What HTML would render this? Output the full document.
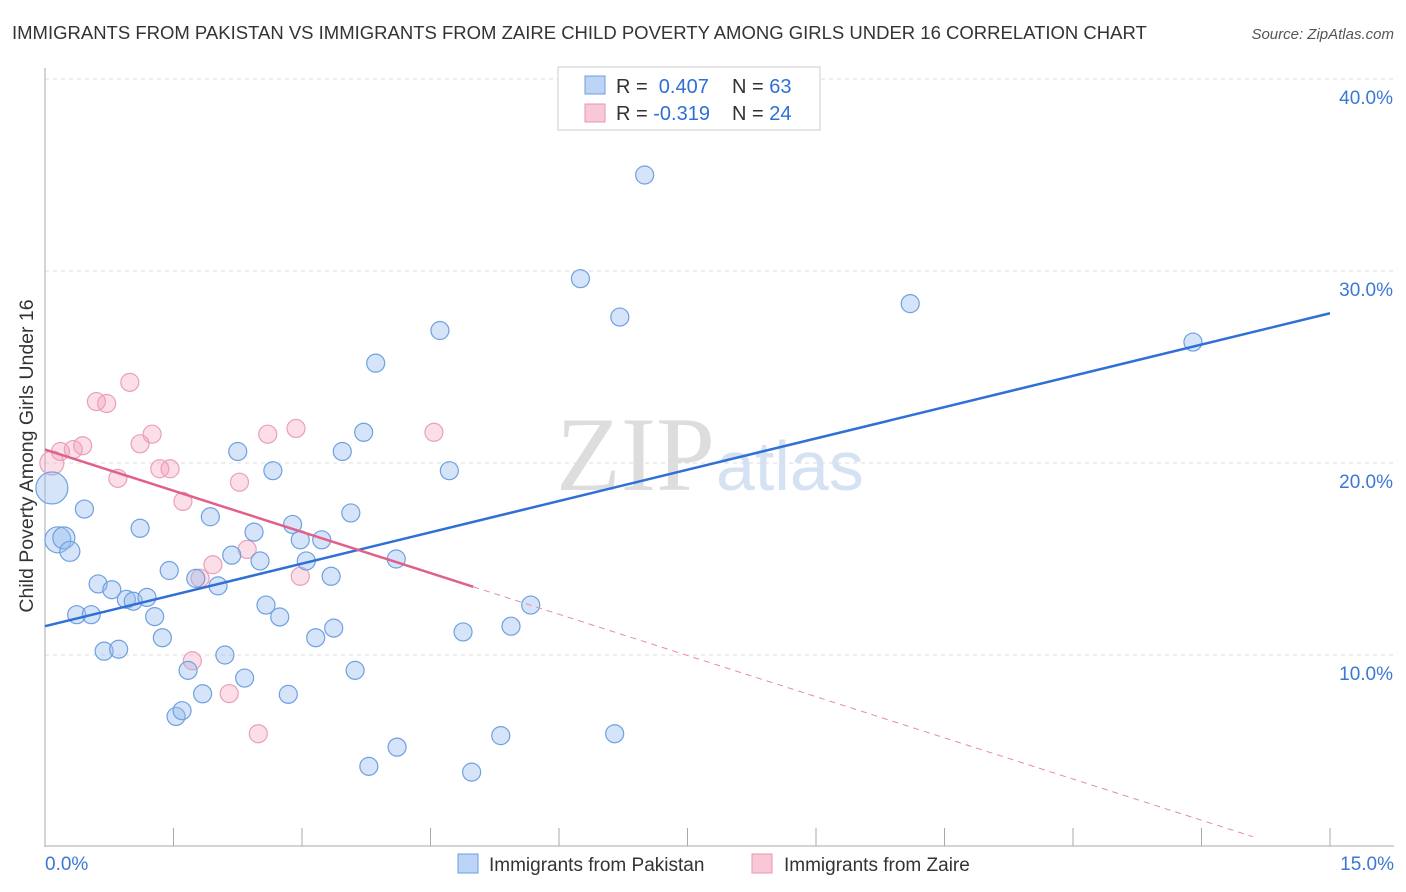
<!DOCTYPE html>
<html><head><meta charset="utf-8"><style>
body{margin:0;background:#fff;font-family:"Liberation Sans",sans-serif;}
#wrap{position:relative;width:1406px;height:892px;overflow:hidden}
</style></head><body><div id="wrap">
<svg id="svg" width="1406" height="892">
<text x="12" y="39" font-size="18.5" fill="#333">IMMIGRANTS FROM PAKISTAN VS IMMIGRANTS FROM ZAIRE CHILD POVERTY AMONG GIRLS UNDER 16 CORRELATION CHART</text>
<text x="1394" y="39" font-size="15" fill="#555" font-style="italic" text-anchor="end">Source: ZipAtlas.com</text>
<text x="715" y="490" font-size="106" fill="#ddd" text-anchor="end" font-family="Liberation Serif">ZIP</text>
<text x="716" y="490" font-size="70" fill="#d5e2f3">atlas</text>
<text transform="translate(33,456) rotate(-90)" font-size="19.5" fill="#333" text-anchor="middle">Child Poverty Among Girls Under 16</text>
<g id="grid"></g><g id="pts"></g><g id="lines"></g>
<g>
<rect x="558" y="67" width="262" height="63" fill="#fff" stroke="#ccc"/>
<rect x="585" y="76" width="20" height="18" fill="#bcd4f5" stroke="#6c9de0"/>
<rect x="585" y="104" width="20" height="18" fill="#f9c8d6" stroke="#ea94b0"/>
<text x="616" y="93" font-size="20" fill="#333">R = <tspan fill="#2f6fd6">&#160;0.407</tspan><tspan x="732">N = </tspan><tspan fill="#2f6fd6">63</tspan></text>
<text x="616" y="120" font-size="20" fill="#333">R = <tspan fill="#2f6fd6">-0.319</tspan><tspan x="732">N = </tspan><tspan fill="#2f6fd6">24</tspan></text>
</g>
<g>
<rect x="458" y="854" width="20" height="19" fill="#bcd4f5" stroke="#6c9de0"/>
<text x="489" y="871" font-size="19" fill="#333">Immigrants from Pakistan</text>
<rect x="752" y="854" width="20" height="19" fill="#f9c8d6" stroke="#ea94b0"/>
<text x="784" y="871" font-size="19" fill="#333">Immigrants from Zaire</text>
</g>
</svg></div>
<script>
const yTicks=[10,20,30,40];
const xTickLabels=["0.0%","15.0%"];
const pakX=[0.08,0.15,0.22,0.29,0.46,0.37,0.54,0.62,0.69,0.78,0.86,0.95,1.03,1.11,1.19,1.28,1.37,1.45,1.53,1.6,1.67,1.76,1.84,1.93,2.02,2.1,2.18,2.25,2.33,2.44,2.51,2.58,2.66,2.74,2.84,2.89,2.98,3.05,3.16,3.23,3.34,3.37,3.47,3.57,3.62,3.72,3.78,3.86,4.1,4.11,4.61,4.72,4.88,4.98,5.32,5.44,5.67,6.25,6.65,6.71,7.0,10.1,13.4];
const pakY=[18.7,16.0,16.1,15.4,17.6,12.1,12.1,13.7,10.2,13.4,10.3,12.9,12.8,16.6,13.0,12.0,10.9,14.4,6.8,7.1,9.2,13.99,7.98,17.2,13.6,10.0,15.2,20.6,8.8,16.4,14.9,12.6,19.6,11.98,7.95,16.8,16.0,14.9,10.9,16.0,14.1,11.4,20.6,17.4,9.2,21.6,4.2,25.2,15.0,5.2,26.9,19.6,11.2,3.9,5.8,11.5,12.6,29.6,5.9,27.6,35.0,28.3,26.3];
const pakR=[16,13,11,10,9,9,9,9,9,9,9,9,9,9,9,9,9,9,9,9,9,9,9,9,9,9,9,9,9,9,9,9,9,9,9,9,9,9,9,9,9,9,9,9,9,9,9,9,9,9,9,9,9,9,9,9,9,9,9,9,9,9,9];
const zaiX=[0.08,0.18,0.33,0.44,0.6,0.72,0.85,0.99,1.11,1.25,1.34,1.46,1.61,1.81,1.96,2.15,2.27,2.36,2.49,2.6,2.93,2.98,4.54,1.72];
const zaiY=[20.0,20.6,20.7,20.9,23.2,23.1,19.2,24.2,21.0,21.5,19.7,19.7,18.0,14.0,14.7,7.99,19.0,15.5,5.9,21.5,21.8,14.1,21.6,9.7];
const zaiR=[12,9,9,9,9,9,9,9,9,9,9,9,9,9,9,9,9,9,9,9,9,9,9,9];
const pakFit=[11.5,27.8], zaiFit=[20.7,-0.75];
const NS="http://www.w3.org/2000/svg";
const X=v=>45+v/15*1285, Y=v=>847-v*19.2;
function mk(t,a,p){const e=document.createElementNS(NS,t);for(const k in a)e.setAttribute(k,a[k]);p.appendChild(e);return e;}
const grid=document.getElementById('grid'),svg=document.getElementById('svg');
yTicks.forEach(t=>{
 const l=mk('line',{x1:45,x2:1394,y1:Y(t),y2:Y(t),stroke:'#ddd','stroke-dasharray':'4,4'},grid);
 
 
 const tx=mk('text',{x:1393,y:Y(t)+25,'font-size':19,fill:'#3a78d4','text-anchor':'end'},grid);tx.textContent=t.toFixed(1)+'%';
 
 
});
mk('line',{x1:45,x2:45,y1:68,y2:847,stroke:'#aaa'},grid);
mk('line',{x1:45,x2:1394,y1:846,y2:846,stroke:'#aaa'},grid);
for(let i=1;i<=10;i++){mk('line',{x1:X(i*1.5),x2:X(i*1.5),y1:828,y2:846,stroke:'#aaa'},grid);}
[[45,'start',0],[1394,'end',1]].forEach(([x,a,i])=>{const t=mk('text',{x:x,y:870,'font-size':19,fill:'#3a78d4','text-anchor':a},grid);t.textContent=xTickLabels[i];
 
 });
const pts=document.getElementById('pts');
zaiX.forEach((v,i)=>{const c=mk('circle',{cx:X(v),cy:Y(zaiY[i]),r:zaiR[i],fill:'rgba(244,160,186,0.35)',stroke:'#eaa0b8','stroke-width':1.2},pts);
 
 });
pakX.forEach((v,i)=>{const c=mk('circle',{cx:X(v),cy:Y(pakY[i]),r:pakR[i],fill:'rgba(150,188,238,0.4)',stroke:'#6fa0e0','stroke-width':1.2},pts);
 
 });
const lg=document.getElementById('lines');
const zy=x=>zaiFit[0]+(zaiFit[1]-zaiFit[0])*x/15;
let l1=mk('line',{x1:X(0),y1:Y(pakFit[0]),x2:X(15),y2:Y(pakFit[1]),stroke:'#2f6fd6','stroke-width':2.5},lg);


let l2=mk('line',{x1:X(0),y1:Y(zy(0)),x2:X(5),y2:Y(zy(5)),stroke:'#e0608a','stroke-width':2.5},lg);


let l3=mk('line',{x1:X(5),y1:Y(zy(5)),x2:X(14.1),y2:Y(zy(14.1)),stroke:'#e78aa8','stroke-width':1,'stroke-dasharray':'6,5'},lg);


</script></body></html>
